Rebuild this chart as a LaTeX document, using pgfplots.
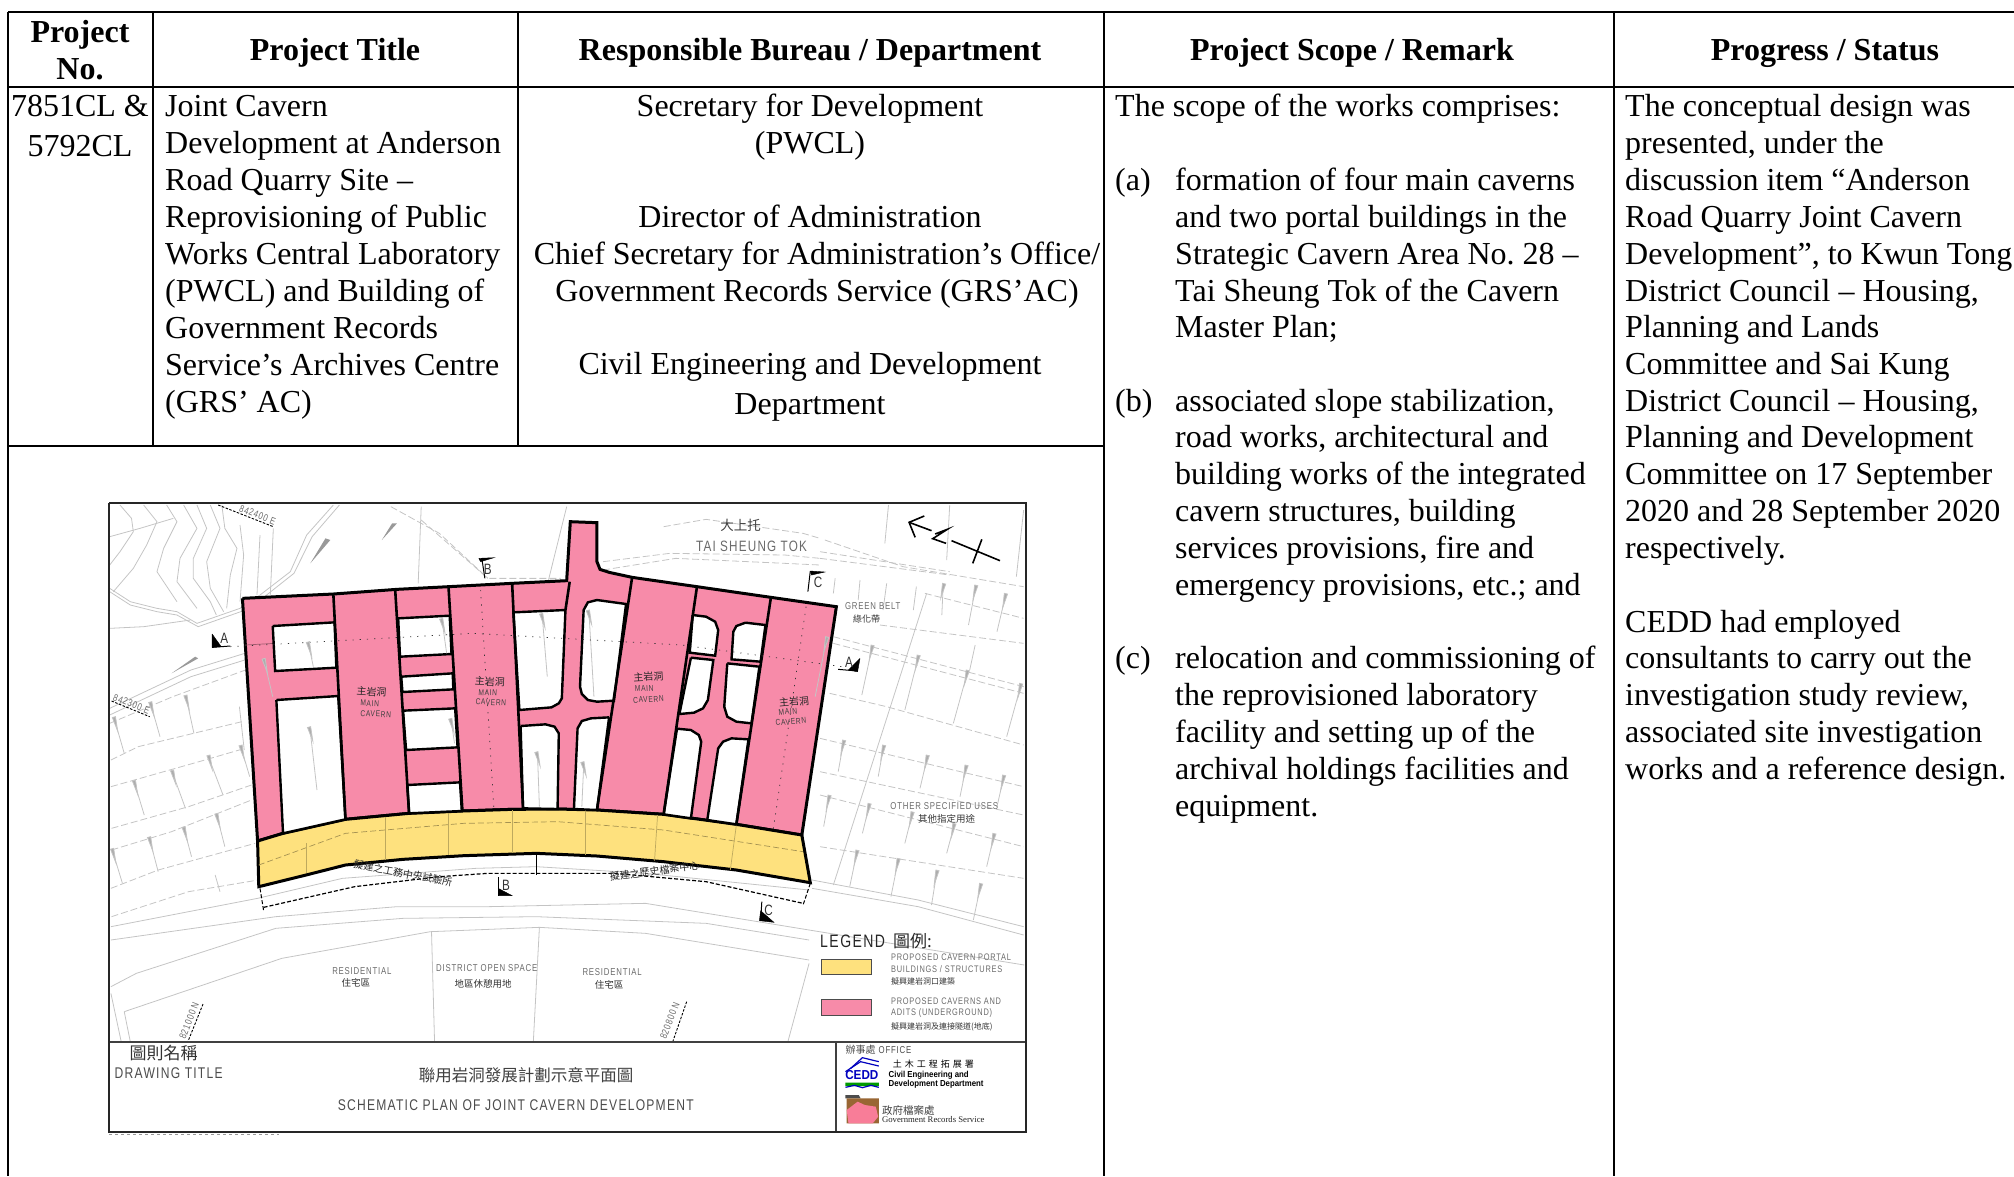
\documentclass[border=0pt]{standalone}
\usepackage{fontspec}
\usepackage{pgfplots}
\pgfplotsset{compat=1.18}
\setmainfont{Liberation Serif}
\newfontfamily\cad[FakeStretch=0.78,LetterSpace=8]{Liberation Sans}
\newfontfamily\cadb[FakeStretch=0.9]{Liberation Sans}
\newfontfamily\cjk{Noto Sans CJK TC}
\definecolor{pinkc}{HTML}{F78BA9}
\definecolor{yelc}{HTML}{FEE17E}
\definecolor{gl}{HTML}{C4C4C4}
\definecolor{cadgray}{HTML}{6A6A6A}
\newcommand{\bodyf}{\fontsize{32}{37}\selectfont}
\newcommand{\headf}{\fontsize{32}{37}\selectfont\bfseries}
\newcommand{\TXL}[3]{\node[anchor=base west,inner sep=0pt,font=\bodyf] at (axis cs:#1,#2+1) {#3};}
\newcommand{\TXC}[3]{\node[anchor=base,inner sep=0pt,font=\bodyf] at (axis cs:#1,#2+1) {#3};}
\newcommand{\HDC}[3]{\node[anchor=base,inner sep=0pt,font=\headf] at (axis cs:#1,#2+1) {#3};}
\newcommand{\MC}[5][0]{\node[inner sep=0pt,rotate=#1,text=#4] at (axis cs:#2,#3) {#5};}
\newcommand{\ML}[4]{\node[anchor=west,inner sep=0pt,text=#3] at (axis cs:#1,#2) {#4};}
\newcommand{\cadf}[1]{\fontsize{#1}{#1}\selectfont\cad}
\newcommand{\cjkf}[1]{\fontsize{#1}{#1}\selectfont\cjk}
\newcommand{\dr}[4]{\addplot[dropR] coordinates {(#1,#2)(#3,#4)};}
\newcommand{\dl}[4]{\addplot[dropL] coordinates {(#1,#2)(#3,#4)};}
\pgfplotsset{sheet/.style={hide axis,scale only axis,width=2014pt,height=1176pt,at={(0pt,0pt)},anchor=south west,y dir=reverse,clip=true},
 g/.style={draw=gl,line width=0.8pt},
 gd/.style={draw=gl,line width=0.8pt,dash pattern=on 7pt off 3pt},
 wedge/.style={draw=none,fill=black!40},
 dropR/.style={draw=gl,line width=0.8pt,mark=triangle*,mark indices=1,mark size=3.4pt,mark options={draw=none,fill=black!32,rotate=167,xscale=.55,yscale=2.8}},
 dropL/.style={draw=gl,line width=0.8pt,mark=triangle*,mark indices=1,mark size=3.4pt,mark options={draw=none,fill=black!32,rotate=195,xscale=.55,yscale=2.8}},
 k/.style={draw=black,line width=2.6pt},
 hole/.style={draw=black,line width=2.4pt,fill=white},
 sect/.style={draw=black!80,line width=0.7pt,dash pattern=on 1.2pt off 6pt}}
\begin{document}
\frenchspacing
\begin{tikzpicture}
\clip (0pt,0pt) rectangle (2014pt,1176pt);
% ---------- table, in pixels of the sheet
\begin{axis}[sheet,xmin=0,xmax=2014,ymin=0,ymax=1176]
\addplot[draw=black,line width=2.2pt] coordinates {(8,12) (2014,12)};
\addplot[draw=black,line width=2.2pt] coordinates {(8,87) (2014,87)};
\addplot[draw=black,line width=2.2pt] coordinates {(8,446) (1103,446)};
\addplot[draw=black,line width=2pt] coordinates {(8,12) (8,1176)};
\addplot[draw=black,line width=2pt] coordinates {(153,12) (153,446)};
\addplot[draw=black,line width=2pt] coordinates {(518,12) (518,446)};
\addplot[draw=black,line width=2pt] coordinates {(1104,12) (1104,1176)};
\addplot[draw=black,line width=2pt] coordinates {(1614,12) (1614,1176)};
\HDC{80}{41}{Project}
\HDC{80}{78}{No.}
\HDC{335}{59}{Project Title}
\HDC{810}{59}{Responsible Bureau / Department}
\HDC{1352}{59}{Project Scope / Remark}
\HDC{1825}{59}{Progress / Status}
\TXC{80}{115}{7851CL \&}
\TXC{80}{155}{5792CL}
\TXL{165}{115}{Joint Cavern}
\TXL{165}{152}{Development at Anderson}
\TXL{165}{189.5}{Road Quarry Site –}
\TXL{165}{226.5}{Reprovisioning of Public}
\TXL{165}{263.5}{Works Central Laboratory}
\TXL{165}{300.5}{(PWCL) and Building of}
\TXL{165}{337.5}{Government Records}
\TXL{165}{374.5}{Service’s Archives Centre}
\TXL{165}{411.5}{(GRS’ AC)}
\TXC{810}{115}{Secretary for Development}
\TXC{810}{152}{(PWCL)}
\TXC{810}{226.7}{Director of Administration}
\TXC{817}{263.5}{Chief Secretary for Administration’s Office/}
\TXC{817}{300}{Government Records Service (GRS’AC)}
\TXC{810}{373}{Civil Engineering and Development}
\TXC{810}{413}{Department}
\TXL{1115}{115}{The scope of the works comprises:}
\TXL{1115}{189.3}{(a)}
\TXL{1175}{189.3}{formation of four main caverns}
\TXL{1175}{226.7}{and two portal buildings in the}
\TXL{1175}{263.3}{Strategic Cavern Area No. 28 –}
\TXL{1175}{300}{Tai Sheung Tok of the Cavern}
\TXL{1175}{336.7}{Master Plan;}
\TXL{1115}{410}{(b)}
\TXL{1175}{410}{associated slope stabilization,}
\TXL{1175}{446.7}{road works, architectural and}
\TXL{1175}{483}{building works of the integrated}
\TXL{1175}{520}{cavern structures, building}
\TXL{1175}{557}{services provisions, fire and}
\TXL{1175}{594}{emergency provisions, etc.; and}
\TXL{1115}{667}{(c)}
\TXL{1175}{667}{relocation and commissioning of}
\TXL{1175}{704}{the reprovisioned laboratory}
\TXL{1175}{741}{facility and setting up of the}
\TXL{1175}{778}{archival holdings facilities and}
\TXL{1175}{815}{equipment.}
\TXL{1625}{115}{The conceptual design was}
\TXL{1625}{152}{presented, under the}
\TXL{1625}{189.3}{discussion item “Anderson}
\TXL{1625}{226.7}{Road Quarry Joint Cavern}
\TXL{1625}{263.3}{Development”, to Kwun Tong}
\TXL{1625}{300}{District Council – Housing,}
\TXL{1625}{336.7}{Planning and Lands}
\TXL{1625}{373}{Committee and Sai Kung}
\TXL{1625}{410}{District Council – Housing,}
\TXL{1625}{446.7}{Planning and Development}
\TXL{1625}{483}{Committee on 17 September}
\TXL{1625}{520}{2020 and 28 September 2020}
\TXL{1625}{557}{respectively.}
\TXL{1625}{631.7}{CEDD had employed}
\TXL{1625}{667}{consultants to carry out the}
\TXL{1625}{704}{investigation study review,}
\TXL{1625}{741}{associated site investigation}
\TXL{1625}{778}{works and a reference design.}
\end{axis}
% ---------- plan: x' = 1.65 (px-100), y' = 3 (py-490)
\begin{axis}[sheet,xmin=-165,xmax=3158.1,ymin=-1470,ymax=2058]
% contours
\addplot[g] coordinates {(33,45)(52,85)(55,125)(33,185)(16,225)};
\addplot[g] coordinates {(72,45)(94,95)(77,165)(55,235)(22,305)};
\addplot[g] coordinates {(110,45)(127,95)(105,175)(94,245)(127,335)};
\addplot[g] coordinates {(138,45)(160,115)(132,205)(127,275)(160,355)};
\addplot[g] coordinates {(160,45)(176,115)(154,205)(154,265)(182,335)(192,375)};
\addplot[g] coordinates {(182,45)(198,115)(176,215)(182,295)(204,365)};
\addplot[g] coordinates {(201,45)(206,115)(226,175)(215,255)(209,355)};
\addplot[g] coordinates {(231,105)(237,195)(231,335)};
\addplot[g] coordinates {(264,135)(259,315)};
\addplot[g] coordinates {(286,115)(281,315)};
\addplot[g] coordinates {(16,140)(66,115)(121,85)};
\addplot[g] coordinates {(16,295)(50,335)(94,355)(127,365)(160,400)(231,355)(264,315)(314,245)(341,135)(385,45)};
\addplot[g] coordinates {(16,305)(50,345)(94,365)(127,375)(162,410)(240,360)(270,322)(320,250)(350,140)(395,45)};
\addplot[g] coordinates {(16,415)(72,410)(149,390)};
% roads and plot lines
\addplot[g] coordinates {(16,655)(150,540)(390,405)(700,415)};
\addplot[g] coordinates {(16,675)(150,560)(390,425)(700,440)};
\addplot[gd] coordinates {(16,700)(120,620)(240,540)};
\addplot[gd] coordinates {(480,50)(560,130)(640,265)};
\addplot[gd] coordinates {(530,90)(640,265)(760,265)};
\addplot[gd] coordinates {(830,240)(950,205)(1130,220)(1188,225)};
\addplot[gd] coordinates {(830,215)(940,190)(1130,195)(1188,205)};
\addplot[gd] coordinates {(930,110)(1000,88)(1160,130)(1188,145)};
% right-hand plots
\addplot[g] coordinates {(1364,310)(1210,1185)};
\addplot[gd] coordinates {(1361,310)(1524,385)};
\addplot[gd] coordinates {(1196,150)(1325,230)(1524,290)};
\addplot[gd] coordinates {(1287,405)(1524,460)};
\addplot[gd] coordinates {(1210,440)(1524,590)};
\addplot[gd] coordinates {(1210,460)(1524,610)};
\addplot[gd] coordinates {(1204,610)(1298,650)(1524,765)};
\addplot[gd] coordinates {(1188,745)(1524,890)};
\addplot[gd] coordinates {(1188,845)(1524,975)};
\addplot[gd] coordinates {(1188,915)(1524,1070)};
\addplot[gd] coordinates {(1188,1070)(1524,1165)};
\addplot[g] coordinates {(1175,1170)(1350,1230)(1524,1310)};
\addplot[g] coordinates {(1175,1195)(1350,1250)(1524,1335)};
\addplot[gd] coordinates {(1188,185)(1402,245)};
\addplot[gd] coordinates {(1188,205)(1402,255)};
\addplot[g] coordinates {(1301,45)(1295,160)};
\addplot[g] coordinates {(1402,45)(1397,210)};
\addplot[g] coordinates {(1524,60)(1512,260)};
\addplot[g] coordinates {(1213,265)(1210,310)};
\addplot[g] coordinates {(1254,270)(1251,330)};
\addplot[g] coordinates {(1298,280)(1292,360)};
\addplot[g] coordinates {(1347,290)(1342,360)};
\dr{1273}{480}{1257}{615}
\dr{1349}{510}{1328}{660}
\dr{1430}{555}{1408}{700}
\dr{1518}{595}{1496}{740}
\dr{1226}{765}{1218}{845}
\dr{1292}{780}{1284}{860}
\dr{1364}{810}{1353}{895}
\dr{1428}{840}{1419}{920}
\dr{1490}{870}{1480}{950}
\dr{1202}{930}{1194}{1010}
\dr{1268}{955}{1258}{1030}
\dr{1339}{980}{1328}{1060}
\dr{1408}{1015}{1397}{1090}
\dr{1474}{1045}{1463}{1130}
\dr{1248}{1095}{1237}{1190}
\dr{1316}{1120}{1305}{1220}
\dr{1380}{1155}{1372}{1245}
\dr{1452}{1195}{1441}{1290}
\dr{1391}{295}{1389}{375}
\dr{1444}{300}{1433}{405}
\dr{1493}{325}{1480}{425}
\addplot[g] coordinates {(1444,465)(1435,540)};
% left-hand plots
\addplot[gd] coordinates {(18,810)(63,770)(234,695)};
\addplot[gd] coordinates {(18,890)(173,810)(239,775)};
\addplot[gd] coordinates {(19,1015)(146,950)(250,885)};
\addplot[gd] coordinates {(19,1080)(118,1025)(250,930)};
\addplot[gd] coordinates {(18,1195)(96,1140)(256,1060)};
\addplot[gd] coordinates {(19,1280)(146,1205)(261,1170)};
\dl{25}{695}{40}{790}
\dl{85}{650}{99}{740}
\dl{143}{630}{155}{730}
\dl{58}{885}{73}{975}
\dl{121}{855}{141}{955}
\dl{181}{810}{203}{915}
\dl{234}{780}{247}{860}
\dl{83}{1055}{96}{1145}
\dl{140}{1025}{151}{1100}
\dl{194}{985}{206}{1070}
\dl{22}{1090}{37}{1180}
\addplot[g] coordinates {(190,1155)(198,1205)};
\addplot[g] coordinates {(230,650)(238,780)};
\addplot[g] coordinates {(530,50)(525,280)};
\addplot[g] coordinates {(770,50)(740,270)};
\addplot[g] coordinates {(18,1310)(260,1225)(400,1165)(620,1135)(720,1130)(900,1150)(1170,1200)};
\addplot[g] coordinates {(18,1350)(290,1280)(490,1250)(640,1250)(900,1240)(1170,1320)(1525,1425)};
\addplot[g] coordinates {(18,1490)(60,1450)(290,1315)(500,1285)(720,1280)(1000,1300)(1170,1350)};
\addplot[g] coordinates {(40,1565)(300,1405)(545,1325)(725,1312)(900,1330)(1170,1410)};
\addplot[g] coordinates {(40,1565)(50,1655)};
\addplot[g] coordinates {(18,1510)(35,1655)};
\addplot[g] coordinates {(547,1325)(552,1655)};
\addplot[g] coordinates {(725,1312)(715,1655)};
\addplot[g] coordinates {(1170,1420)(1135,1655)};
\addplot[wedge] coordinates {(380,150)(372,145)(347,220)(380,150)};
\addplot[wedge] coordinates {(162,505)(157,500)(118,550)(162,505)};
\addplot[wedge] coordinates {(490,100)(482,100)(465,150)(490,100)};
% north point
\addplot[draw=black,line width=1.6pt] coordinates {(1360,78)(1335,97)(1345,142)};
\addplot[draw=black,line width=1.6pt] coordinates {(1335,97)(1372,122)};
\addplot[draw=black,line width=1.6pt] coordinates {(1378,132)(1398,118)(1374,146)(1396,160)};
\addplot[draw=black,line width=1.6pt] coordinates {(1405,152)(1485,212)};
\addplot[draw=black,line width=1.6pt] coordinates {(1455,148)(1440,220)};
% caverns
\addplot[draw=black,fill=pinkc,line width=3pt] coordinates {(235,325)(385,312)(490,298)(575,290)(680,280)(770,272)(776,95)(820,98)(820,215)(825,238)(840,247)(878,262)(985,290)(1107,322)(1215,350)(1158,1035)(1050,1003)(930,973)(820,960)(755,957)(680,958)(598,963)(510,970)(405,988)(302,1030)(260,1053)(235,325)};
\addplot[draw=black,fill=yelc,line width=3pt] coordinates {(260,1053)(302,1030)(405,988)(510,970)(598,963)(680,958)(755,957)(820,960)(930,973)(1050,1003)(1158,1035)(1172,1178)(1050,1140)(930,1115)(820,1098)(720,1090)(600,1097)(500,1108)(405,1125)(340,1155)(262,1190)(260,1053)};
\addplot[draw=black!35!pinkc,line width=0.7pt] coordinates {(240,465)(385,450)};
\addplot[draw=black!35!yelc,line width=0.7pt,dash pattern=on 6pt off 3pt] coordinates {(262,1125)(405,1030)(600,1000)(755,995)(930,1020)(1160,1085)};
\addplot[draw=black!25!yelc,line width=0.7pt] coordinates {(340,1060)(340,1150)};
\addplot[draw=black!25!yelc,line width=0.7pt] coordinates {(470,980)(470,1110)};
\addplot[draw=black!25!yelc,line width=0.7pt] coordinates {(575,970)(575,1095)};
\addplot[draw=black!25!yelc,line width=0.7pt] coordinates {(680,960)(680,1090)};
\addplot[draw=black!25!yelc,line width=0.7pt] coordinates {(800,960)(800,1095)};
\addplot[draw=black!25!yelc,line width=0.7pt] coordinates {(920,975)(915,1112)};
\addplot[draw=black!25!yelc,line width=0.7pt] coordinates {(1050,1005)(1040,1140)};
\addplot[hole] coordinates {(285,408)(387,397)(390,533)(289,543)(285,408)};
\addplot[hole] coordinates {(291,630)(393,618)(405,988)(302,1030)(291,630)};
\addplot[hole] coordinates {(492,385)(577,377)(580,492)(495,500)(492,385)};
\addplot[hole] coordinates {(497,560)(582,550)(583,598)(499,606)(497,560)};
\addplot[hole] coordinates {(500,662)(586,655)(590,772)(505,780)(500,662)};
\addplot[hole] coordinates {(507,885)(594,877)(597,963)(510,970)(507,885)};
\addplot[hole] coordinates {(682,367)(768,360)(762,625)(757,640)(745,652)(692,660)(682,367)};
\addplot[hole] coordinates {(694,708)(735,703)(750,710)(757,730)(755,957)(698,955)(694,708)};
\addplot[hole] coordinates {(798,360)(805,337)(820,330)(868,342)(848,632)(820,635)(805,630)(795,612)(792,590)(798,360)};
\addplot[hole] coordinates {(840,682)(810,685)(795,693)(788,715)(782,957)(820,960)(840,682)};
\addplot[hole] coordinates {(978,375)(1000,380)(1015,395)(1020,420)(1015,497)(973,488)(978,375)};
\addplot[hole] coordinates {(975,503)(1012,510)(1003,630)(995,655)(980,668)(956,672)(975,503)};
\addplot[hole] coordinates {(952,716)(975,720)(988,735)(992,755)(975,985)(930,973)(952,716)};
\addplot[hole] coordinates {(1065,398)(1098,405)(1090,515)(1042,508)(1045,425)(1050,408)(1065,398)};
\addplot[hole] coordinates {(1035,520)(1088,530)(1075,700)(1050,695)(1035,680)(1030,650)(1035,520)};
\addplot[hole] coordinates {(1070,748)(1042,745)(1028,755)(1020,775)(1002,990)(1050,1003)(1070,748)};
\addplot[k] coordinates {(385,312)(405,988)};
\addplot[k] coordinates {(487,298)(510,970)};
\addplot[k] coordinates {(575,290)(598,963)};
\addplot[k] coordinates {(680,280)(698,955)};
\addplot[k] coordinates {(878,262)(820,960)};
\addplot[k] coordinates {(985,290)(930,973)};
\addplot[k] coordinates {(1107,322)(1050,1003)};
\addplot[k] coordinates {(775,275)(768,360)};
% grey marks seen through the plan
\dl{345}{470}{352}{530}
\dl{565}{400}{572}{490}
\dl{347}{725}{358}{900}
\dl{272}{520}{285}{620}
\dl{730}{385}{738}{560}
\dl{807}{375}{815}{620}
\dl{798}{830}{795}{950}
\dl{722}{800}{725}{950}
\dr{1198}{455}{1180}{620}
\dl{580}{700}{585}{760}
% section lines
\addplot[sect] coordinates {(215,470)(615,430)(960,465)(1225,530)};
\addplot[sect] coordinates {(628,300)(650,960)};
\addplot[sect] coordinates {(1165,350)(1110,1030)};
\addplot[draw=black,line width=1.2pt,dash pattern=on 4pt off 2pt] coordinates {(270,1252)(420,1190)(560,1160)(640,1150)(720,1150)};
\addplot[draw=black,line width=1.2pt,dash pattern=on 4pt off 2pt] coordinates {(720,1150)(850,1150)(1000,1175)(1160,1240)};
\addplot[draw=black,line width=1pt] coordinates {(720,1093)(720,1155)};
\addplot[draw=black,line width=1pt,dash pattern=on 4pt off 2pt] coordinates {(264,1195)(270,1262)};
\addplot[draw=black,line width=1pt,dash pattern=on 4pt off 2pt] coordinates {(1172,1180)(1160,1245)};
\addplot[draw=black,line width=0.9pt,dash pattern=on 2.5pt off 1.5pt] coordinates {(195,45)(286,110)};
\addplot[draw=black,line width=0.9pt,dash pattern=on 2.5pt off 1.5pt] coordinates {(19,633)(82,680)};
\addplot[draw=black,line width=0.9pt,dash pattern=on 2.5pt off 1.5pt] coordinates {(170,1542)(145,1655)};
\addplot[draw=black,line width=0.9pt,dash pattern=on 2.5pt off 1.5pt] coordinates {(968,1535)(945,1655)};
\addplot[draw=black,fill=black] coordinates {(185,432)(185,472)(200,470)(185,432)};
\addplot[draw=black,line width=1pt] coordinates {(185,472)(215,468)};
\addplot[draw=black,fill=black] coordinates {(625,205)(650,203)(628,215)(625,205)};
\addplot[draw=black,line width=1pt] coordinates {(630,205)(635,265)};
\addplot[draw=black,fill=black] coordinates {(1172,243)(1196,246)(1174,255)(1172,243)};
\addplot[draw=black,line width=1pt] coordinates {(1172,243)(1168,305)};
\addplot[draw=black,fill=black] coordinates {(1254,505)(1250,545)(1235,540)(1254,505)};
\addplot[draw=black,line width=1pt] coordinates {(1250,543)(1218,538)};
\addplot[draw=black,fill=black] coordinates {(657,1195)(658,1217)(680,1217)(657,1195)};
\addplot[draw=black,line width=1pt] coordinates {(657,1217)(657,1160)};
\addplot[draw=black,fill=black] coordinates {(1090,1262)(1088,1292)(1112,1297)(1090,1262)};
\addplot[draw=black,line width=1pt] coordinates {(1090,1292)(1092,1235)};
\MC{205}{445}{black!80}{\cadf{15}A}
\MC{640}{238}{black!80}{\cadf{15}B}
\MC{1185}{278}{black!80}{\cadf{15}C}
\MC{1236}{518}{black!80}{\cadf{15}A}
\MC{670}{1187}{black!80}{\cadf{15}B}
\MC{1103}{1262}{black!80}{\cadf{15}C}
\MC[-21.5]{260}{75}{cadgray}{\cadf{10}842400 E}
\MC[-21.5]{52}{642}{cadgray}{\cadf{10}842300 E}
\MC{1057}{107}{black!75}{\cjkf{13.5}大上托}
\MC{1075}{168}{cadgray}{\cadf{15}TAI SHEUNG TOK}
\MC{1275}{347}{cadgray}{\cadf{10}GREEN BELT}
\MC{1265}{387}{black!80}{\cjkf{9}綠化帶}
\MC{1393}{947}{cadgray}{\cadf{10}OTHER SPECIFIED USES}
\MC{1397}{987}{black!80}{\cjkf{9.5}其他指定用途}
\MC[-4]{448}{605}{black!85}{\cjkf{10}主岩洞}
\MC[-3]{445}{640}{black!75}{\cadf{8.5}MAIN}
\MC[-3]{455}{672}{black!75}{\cadf{8.5}CAVERN}
\MC[-3]{643}{575}{black!85}{\cjkf{10}主岩洞}
\MC[-3]{640}{608}{black!75}{\cadf{8.5}MAIN}
\MC[-3]{645}{637}{black!75}{\cadf{8.5}CAVERN}
\MC[3]{905}{560}{black!85}{\cjkf{10}主岩洞}
\MC[3]{898}{595}{black!75}{\cadf{8.5}MAIN}
\MC[3]{905}{628}{black!75}{\cadf{8.5}CAVERN}
\MC[5]{1145}{635}{black!85}{\cjkf{10}主岩洞}
\MC[5]{1135}{665}{black!75}{\cadf{8.5}MAIN}
\MC[5]{1140}{695}{black!75}{\cadf{8.5}CAVERN}
\MC[-10.6]{500}{1150}{black!85}{\cjkf{10}擬建之工務中央試驗所}
\MC[7.7]{915}{1143}{black!85}{\cjkf{10}擬建之歷史檔案中心}
\MC{432}{1442}{cadgray}{\cadf{10}RESIDENTIAL}
\MC{422}{1480}{black!80}{\cjkf{9.5}住宅區}
\MC{638}{1435}{cadgray}{\cadf{10}DISTRICT OPEN SPACE}
\MC{632}{1482}{black!80}{\cjkf{9.5}地區休憩用地}
\MC{845}{1447}{cadgray}{\cadf{10}RESIDENTIAL}
\MC{840}{1486}{black!80}{\cjkf{9.5}住宅區}
\MC[69]{147}{1592}{cadgray}{\cadf{10}821000 N}
\MC[69]{940}{1592}{cadgray}{\cadf{10}820800 N}
% legend
\ML{1188}{1353}{black!85}{\cadf{18}LEGEND\hspace{8pt}\cjkf{17}圖例:}
\addplot[draw=black!70,line width=1.2pt,fill=yelc] coordinates {(1190,1408)(1273,1408)(1273,1453)(1190,1453)(1190,1408)};
\addplot[draw=black!70,line width=1.2pt,fill=pinkc] coordinates {(1190,1528)(1273,1528)(1273,1577)(1190,1577)(1190,1528)};
\ML{1305}{1402}{cadgray}{\cadf{9.5}PROPOSED CAVERN PORTAL}
\ML{1305}{1436}{cadgray}{\cadf{9.5}BUILDINGS / STRUCTURES}
\ML{1305}{1475}{black!80}{\cjkf{8}擬興建岩洞口建築}
\ML{1305}{1533}{cadgray}{\cadf{9.5}PROPOSED CAVERNS AND}
\ML{1305}{1568}{cadgray}{\cadf{9.5}ADITS (UNDERGROUND)}
\ML{1305}{1610}{black!80}{\cjkf{8}擬興建岩洞及連接隧道(地底)}
% title block
\addplot[draw=none,fill=white] coordinates {(15,1655)(1528,1655)(1528,1925)(15,1925)(15,1655)};
\addplot[draw=black!75,line width=2pt] coordinates {(15,1655)(1528,1655)};
\addplot[draw=black!75,line width=1.6pt] coordinates {(1214,1655)(1214,1925)};
\addplot[draw=black!85,line width=2.2pt] coordinates {(15,40)(1528,40)(1528,1925)(15,1925)(15,40)};
\addplot[draw=black!40,line width=1pt,dash pattern=on 3pt off 3pt] coordinates {(15,1933)(295,1933)};
\MC{105}{1690}{black!80}{\cjkf{17}圖則名稱}
\ML{24}{1748}{black!70}{\cadf{15.5}DRAWING TITLE}
\MC{703}{1757}{black!75}{\cjkf{16.5}聯用岩洞發展計劃示意平面圖}
\MC{686}{1845}{black!70}{\cadf{15.5}SCHEMATIC PLAN OF JOINT CAVERN DEVELOPMENT}
\ML{1230}{1680}{black!70}{\cjkf{10}辦事處\hspace{3pt}\cadf{10}OFFICE}
\MC{1375}{1722}{black}{\cjkf{9}土\hspace{3pt}木\hspace{3pt}工\hspace{3pt}程\hspace{3pt}拓\hspace{3pt}展\hspace{3pt}署}
\ML{1301}{1757}{black}{\fontsize{8.7}{9}\selectfont\cadb\bfseries Civil Engineering and}
\ML{1301}{1782}{black}{\fontsize{8.7}{9}\selectfont\cadb\bfseries Development Department}
\addplot[draw=blue!75!black,line width=1.2pt] coordinates {(1230,1745)(1255,1715)(1285,1728)};
\addplot[draw=blue!75!black,line width=1.2pt] coordinates {(1238,1736)(1258,1703)(1285,1715)};
\MC{1257}{1755}{blue!75!black}{\fontsize{13}{13}\selectfont\cadb\bfseries CEDD}
\addplot[draw=none,fill=green!60!black] coordinates {(1230,1778)(1285,1778)(1285,1788)(1230,1788)(1230,1778)};
\addplot[draw=blue!75!black,line width=1.2pt] coordinates {(1230,1792)(1245,1786)(1258,1793)(1272,1786)(1285,1792)};
\addplot[draw=none,fill=black!70] coordinates {(1230,1815)(1252,1815)(1255,1825)(1230,1825)(1230,1815)};
\addplot[draw=none,fill=brown!80!black] coordinates {(1232,1825)(1285,1825)(1285,1900)(1232,1900)(1232,1825)};
\addplot[draw=none,fill=pinkc!90!red] coordinates {(1235,1900)(1232,1860)(1250,1835)(1262,1845)(1280,1850)(1284,1880)(1275,1900)(1235,1900)};
\ML{1290}{1862}{black!75}{\cjkf{10.5}政府檔案處}
\ML{1290}{1890}{black!85}{\fontsize{8.7}{9}\selectfont Government Records Service}
\end{axis}
\end{tikzpicture}
\end{document}
